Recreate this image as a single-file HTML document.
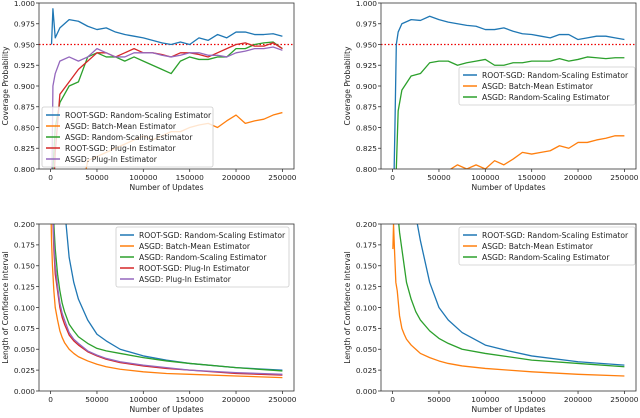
<!DOCTYPE html>
<html><head><meta charset="utf-8"><style>
body{margin:0;background:#fff;width:640px;height:414px;overflow:hidden;font-family:"DejaVu Sans","Liberation Sans",sans-serif}
svg text{font-family:"DejaVu Sans","Liberation Sans",sans-serif;fill:#222}
</style></head><body>
<svg id="fig" width="640" height="414" viewBox="0 0 640 414" xmlns="http://www.w3.org/2000/svg"></svg>
<script>
const C={blue:'#1f77b4',orange:'#ff7f0e',green:'#2ca02c',red:'#d62728',purple:'#9467bd'};
const xsTL=[1000,2500,5000,10000,20000,30000,40000,50000,60000,70000,80000,90000,100000,110000,120000,130000,140000,150000,160000,170000,180000,190000,200000,210000,220000,230000,240000,250000];
const tlBlue=[0.95,0.993,0.958,0.970,0.980,0.978,0.972,0.968,0.970,0.965,0.962,0.960,0.958,0.955,0.952,0.950,0.953,0.950,0.958,0.955,0.962,0.958,0.965,0.965,0.962,0.962,0.963,0.960];
const tlOrange=[0.7,0.7,0.7,0.7,0.7,0.75,0.81,0.815,0.82,0.825,0.83,0.835,0.84,0.835,0.84,0.845,0.845,0.85,0.853,0.855,0.85,0.858,0.865,0.855,0.858,0.86,0.865,0.868];
const tlGreen=[0.7,0.8,0.85,0.88,0.90,0.905,0.935,0.94,0.935,0.935,0.93,0.935,0.93,0.925,0.92,0.915,0.93,0.935,0.932,0.932,0.935,0.935,0.945,0.945,0.95,0.952,0.953,0.945];
const tlRed=[0.7,0.75,0.82,0.89,0.905,0.92,0.93,0.94,0.94,0.935,0.94,0.945,0.94,0.94,0.938,0.935,0.94,0.94,0.938,0.935,0.94,0.945,0.95,0.952,0.948,0.948,0.952,0.945];
const tlPurple=[0.75,0.9,0.915,0.93,0.935,0.93,0.935,0.945,0.94,0.935,0.935,0.94,0.94,0.94,0.937,0.935,0.937,0.94,0.94,0.937,0.937,0.935,0.94,0.942,0.945,0.945,0.947,0.943];
const xsTR=[1500,2500,4000,6000,10000,20000,30000,40000,50000,60000,70000,80000,90000,100000,110000,120000,130000,140000,150000,160000,170000,180000,190000,200000,210000,220000,230000,240000,250000];
const trBlue=[0.79,0.85,0.95,0.965,0.975,0.980,0.979,0.984,0.980,0.977,0.975,0.973,0.972,0.968,0.968,0.970,0.966,0.963,0.962,0.960,0.958,0.962,0.962,0.956,0.958,0.960,0.960,0.958,0.956];
const trOrange=[0.7,0.7,0.7,0.7,0.7,0.75,0.77,0.78,0.79,0.798,0.805,0.80,0.805,0.80,0.81,0.805,0.812,0.82,0.818,0.82,0.822,0.828,0.825,0.832,0.832,0.835,0.837,0.84,0.84];
const trGreen=[0.70,0.75,0.80,0.87,0.895,0.912,0.915,0.928,0.930,0.930,0.925,0.928,0.930,0.932,0.925,0.925,0.928,0.928,0.930,0.930,0.930,0.933,0.930,0.932,0.935,0.934,0.933,0.934,0.934];
const xsB=[300,1000,2000,3500,5000,7500,10000,12500,15000,20000,25000,30000,40000,50000,60000,75000,100000,125000,150000,200000,250000];
const blBlue=[0.9,0.7,0.5,0.45,0.4,0.34,0.3,0.26,0.22,0.16,0.13,0.11,0.085,0.068,0.06,0.05,0.042,0.037,0.033,0.028,0.025];
const blOrange=[0.22,0.18,0.15,0.12,0.10,0.085,0.072,0.064,0.058,0.05,0.045,0.041,0.036,0.032,0.029,0.026,0.023,0.021,0.020,0.018,0.016];
const blGreen=[0.6,0.4,0.25,0.2,0.17,0.14,0.12,0.105,0.095,0.08,0.072,0.065,0.057,0.051,0.048,0.045,0.040,0.036,0.033,0.028,0.024];
const blRed=[0.5,0.3,0.22,0.17,0.14,0.12,0.10,0.088,0.08,0.067,0.06,0.055,0.047,0.042,0.038,0.034,0.030,0.027,0.025,0.021,0.019];
const blPurple=[0.5,0.32,0.23,0.18,0.15,0.125,0.105,0.093,0.085,0.07,0.062,0.057,0.048,0.043,0.039,0.035,0.031,0.028,0.025,0.022,0.020];
const brBlue=[0.9,0.8,0.6,0.55,0.5,0.45,0.4,0.35,0.3,0.25,0.21,0.18,0.13,0.1,0.085,0.07,0.055,0.048,0.042,0.035,0.031];
const brOrange=[0.17,0.2,0.17,0.13,0.12,0.09,0.075,0.068,0.062,0.055,0.05,0.045,0.04,0.036,0.033,0.030,0.027,0.025,0.023,0.020,0.018];
const brGreen=[0.6,0.45,0.3,0.25,0.22,0.19,0.17,0.15,0.13,0.11,0.095,0.085,0.072,0.063,0.057,0.05,0.045,0.041,0.037,0.033,0.029];
const xTicks=[0,50000,100000,150000,200000,250000];
const covTicks=['0.800','0.825','0.850','0.875','0.900','0.925','0.950','0.975','1.000'];
const lenTicks=['0.000','0.025','0.050','0.075','0.100','0.125','0.150','0.175','0.200'];
const NS='http://www.w3.org/2000/svg';
const svg=document.getElementById('fig');
function mk(tag,at,parent){const e=document.createElementNS(NS,tag);for(const k in at)e.setAttribute(k,at[k]);(parent||svg).appendChild(e);return e;}
function panel(id,L,R,T,B,ymin,ymax,yt,ylab,series,legend,ref){
  const g=mk('g',{});
  
  
  const x0=L+(R-L)*0.0455, x1=R-(R-L)*0.0455;
  const sx=v=>x0+(x1-x0)*v/250000, sy=v=>B-(B-T)*(v-ymin)/(ymax-ymin);
  const cp='cp'+id;
  const cl=mk('clipPath',{id:cp},g);mk('rect',{x:L,y:T,width:R-L,height:B-T},cl);
  yt.forEach(t=>{const y=sy(parseFloat(t));mk('line',{x1:L-3,x2:L,y1:y,y2:y,stroke:'#333','stroke-width':0.8},g);
    const tx=mk('text',{x:L-4,y:y+2.8,'font-size':7.4,'text-anchor':'end'},g);tx.textContent=t;
    
    });
  xTicks.forEach(t=>{const x=sx(t);mk('line',{x1:x,x2:x,y1:B,y2:B+3,stroke:'#333','stroke-width':0.8},g);
    const tx=mk('text',{x:x,y:B+11,'font-size':7.4,'text-anchor':'middle'},g);tx.textContent=t;
    
    });
  const xl=mk('text',{x:(L+R)/2,y:B+21,'font-size':7.6,'text-anchor':'middle'},g);xl.textContent='Number of Updates';
  
  
  const yl=mk('text',{x:0,y:0,'font-size':7.6,'text-anchor':'middle',transform:`translate(${L-31},${(T+B)/2}) rotate(-90)`},g);yl.textContent=ylab;
  
  
  const sg=mk('g',{'clip-path':`url(#${cp})`},g);
  if(ref){const l=mk('line',{x1:L,x2:R,y1:sy(0.95),y2:sy(0.95),stroke:'#e00','stroke-width':1.2,'stroke-dasharray':'1.5,2'},sg);
    
    }
  series.forEach(s=>{const p=mk('polyline',{points:s.x.map((v,i)=>sx(v)+','+sy(s.y[i])).join(' '),fill:'none',stroke:s.c,'stroke-width':1.3,'stroke-linejoin':'round'},sg);
    
    });
  mk('rect',{x:L,y:T,width:R-L,height:B-T,fill:'none',stroke:'#333','stroke-width':0.8},g);
  const lg=mk('g',{},g);
  
  
  mk('rect',{x:legend.x,y:legend.y,width:legend.w,height:legend.items.length*11+5,fill:'#fff','fill-opacity':0.8,stroke:'#ccc','stroke-width':0.8,rx:2},lg);
  legend.items.forEach((it,i)=>{const y=legend.y+8+i*11;
    mk('line',{x1:legend.x+4,x2:legend.x+18,y1:y,y2:y,stroke:it[1],'stroke-width':1.5},lg);
    const t=mk('text',{x:legend.x+23,y:y+2.8,'font-size':7.6},lg);t.textContent=it[0];
    
    });
}
const N5=[['ROOT-SGD: Random-Scaling Estimator',C.blue],['ASGD: Batch-Mean Estimator',C.orange],['ASGD: Random-Scaling Estimator',C.green],['ROOT-SGD: Plug-In Estimator',C.red],['ASGD: Plug-In Estimator',C.purple]];
const N3=N5.slice(0,3);
panel('tl',39,294,3,169,0.8,1.0,covTicks,'Coverage Probability',[
 {x:xsTL,y:tlOrange,c:C.orange,n:'asgd-batch-mean-line'},{x:xsTL,y:tlGreen,c:C.green,n:'asgd-random-scaling-line'},
 {x:xsTL,y:tlRed,c:C.red,n:'root-sgd-plug-in-line'},{x:xsTL,y:tlPurple,c:C.purple,n:'asgd-plug-in-line'},{x:xsTL,y:tlBlue,c:C.blue,n:'root-sgd-random-scaling-line'}],
 {x:42,y:107,w:171,items:N5},true);
panel('tr',381,636,3,169,0.8,1.0,covTicks,'Coverage Probability',[
 {x:xsTR,y:trBlue,c:C.blue,n:'root-sgd-random-scaling-line'},{x:xsTR,y:trOrange,c:C.orange,n:'asgd-batch-mean-line'},{x:xsTR,y:trGreen,c:C.green,n:'asgd-random-scaling-line'}],
 {x:459,y:67,w:176,items:N3},true);
panel('bl',39,294,224,391,0,0.2,lenTicks,'Length of Confidence Interval',[
 {x:xsB,y:blBlue,c:C.blue,n:'root-sgd-random-scaling-line'},{x:xsB,y:blOrange,c:C.orange,n:'asgd-batch-mean-line'},{x:xsB,y:blGreen,c:C.green,n:'asgd-random-scaling-line'},
 {x:xsB,y:blRed,c:C.red,n:'root-sgd-plug-in-line'},{x:xsB,y:blPurple,c:C.purple,n:'asgd-plug-in-line'}],
 {x:116,y:227,w:173,items:N5},false);
panel('br',381,636,224,391,0,0.2,lenTicks,'Length of Confidence Interval',[
 {x:xsB,y:brBlue,c:C.blue,n:'root-sgd-random-scaling-line'},{x:xsB,y:brOrange,c:C.orange,n:'asgd-batch-mean-line'},{x:xsB,y:brGreen,c:C.green,n:'asgd-random-scaling-line'}],
 {x:459,y:227,w:176,items:N3},false);
</script>
</body></html>
